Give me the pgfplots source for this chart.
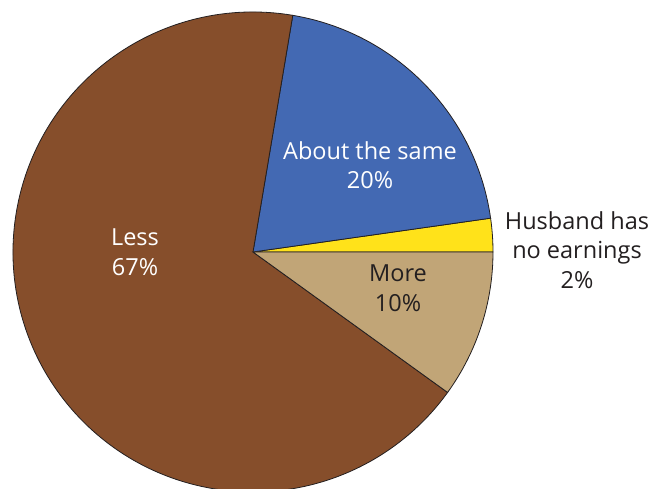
\documentclass[border=0pt]{standalone}
\usepackage{pgfplots}
\pgfplotsset{compat=1.18}
\usepackage{fontspec}
\setmainfont{Open Sans}
\definecolor{cless}{HTML}{864E2B}
\definecolor{csame}{HTML}{4369B3}
\definecolor{chusb}{HTML}{FFE21A}
\definecolor{cmore}{HTML}{C1A577}
\definecolor{cedge}{HTML}{231F20}
% shares in percent (labels round them)
\def\pHusb{2.25}
\def\pSame{20.1}
\def\pLess{67.7}
\def\pMore{9.95}
\pgfmathsetmacro\aA{3.6*\pHusb}
\pgfmathsetmacro\aB{\aA+3.6*\pSame}
\pgfmathsetmacro\aC{\aB+3.6*\pLess}
\pgfmathsetmacro\aD{\aC+3.6*\pMore}
\begin{document}
\begin{tikzpicture}
\useasboundingbox (0,0) rectangle (651pt,488pt);
\begin{axis}[
    scale only axis,
    width=651pt, height=488pt,
    xmin=0, xmax=651, ymin=0, ymax=488,
    hide axis, clip=true,
    anchor=south west, at={(0,0)},
]
\def\cx{253}\def\cy{236}\def\r{240pt}
\filldraw[fill=chusb, draw=cedge, line width=0.8pt] (axis cs:\cx,\cy) -- ++(0:\r) arc[start angle=0, end angle=\aA, radius=\r] -- cycle;
\filldraw[fill=csame, draw=cedge, line width=0.8pt] (axis cs:\cx,\cy) -- ++(\aA:\r) arc[start angle=\aA, end angle=\aB, radius=\r] -- cycle;
\filldraw[fill=cless, draw=cedge, line width=0.8pt] (axis cs:\cx,\cy) -- ++(\aB:\r) arc[start angle=\aB, end angle=\aC, radius=\r] -- cycle;
\filldraw[fill=cmore, draw=cedge, line width=0.8pt] (axis cs:\cx,\cy) -- ++(\aC:\r) arc[start angle=\aC, end angle=\aD, radius=\r] -- cycle;
\begin{scope}[every node/.style={align=center, font=\fontsize{23.5}{29.5}\selectfont}]
\node[text=white] at (axis cs:135,236) {Less\\67\%};
\node[text=white] at (axis cs:370,323) {About the same\\20\%};
\node[text=cedge] at (axis cs:398,200) {More\\10\%};
\node[text=cedge] at (axis cs:577,238) {Husband has\\no earnings\\2\%};
\end{scope}
\end{axis}
\end{tikzpicture}
\end{document}
